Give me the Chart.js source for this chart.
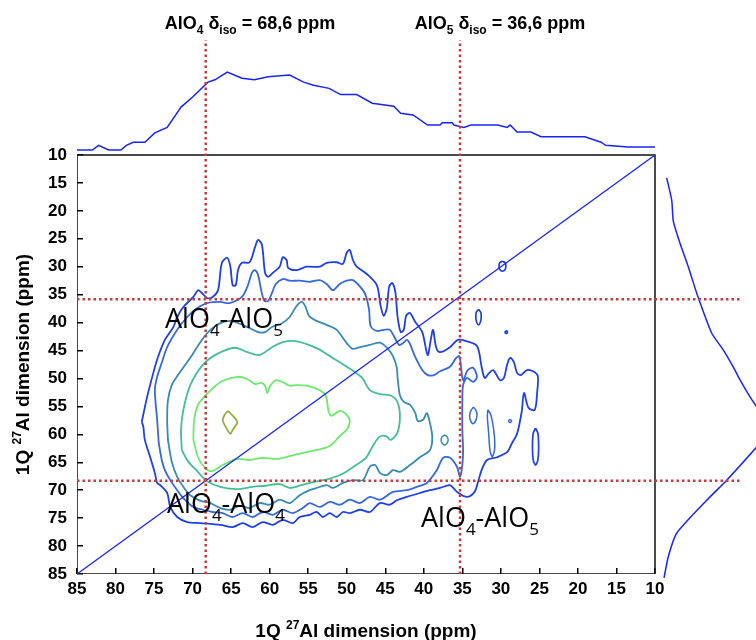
<!DOCTYPE html>
<html>
<head>
<meta charset="utf-8">
<title>27Al 1Q-1Q correlation</title>
<script src="https://cdn.jsdelivr.net/npm/chart.js@4.4.1/dist/chart.umd.min.js"></script>
<style>
  html, body { margin: 0; padding: 0; background: #fff; }
  #wrap { width: 756px; height: 640px; }
</style>
</head>
<body>
<div id="wrap"><canvas id="nmrChart" width="756" height="640"></canvas></div>
<script>
// 27Al 1Q-1Q correlation map (contours + projections)

// axis range and ticks, ppm
const ppmMin = 10;
const ppmMax = 85;
const axisTicks = [10, 15, 20, 25, 30, 35, 40, 45, 50, 55, 60, 65, 70, 75, 80, 85];

// dotted reference lines (ppm)
const alo4LineX = 68.3;
const alo5LineX = 35.3;
const alo4LineY = 68.3;
const alo5LineY = 35.8;
const hLineEndX = -1; // runs on past the frame, over the side projection

// diagonal
const diagonal = [[85, 85], [10, 10]];

// top projection: [ppm, intensity]
const topProjection = [
  [85.0, 0], [83.0, 0], [82.2, 6], [80.9, 0], [79.3, 0], [78.6, 6], [77.7, 10], [76.2, 10],
  [74.9, 22], [73.3, 29], [71.5, 55], [70.0, 68], [68.0, 87], [67.1, 90], [65.5, 100],
  [63.6, 92], [62.0, 90], [60.2, 94], [57.4, 96], [55.6, 87], [54.3, 83], [52.3, 79],
  [50.8, 71], [48.7, 71], [46.7, 60], [43.9, 56], [43.0, 47], [41.4, 45], [39.5, 32],
  [37.9, 32], [37.6, 35], [36.3, 35], [36.1, 32], [34.8, 29], [33.9, 32], [30.4, 32],
  [29.2, 29], [28.8, 32], [27.9, 23], [26.1, 23], [24.8, 17], [19.1, 17], [17.0, 10],
  [16.4, 6], [13.5, 4], [10.0, 4]
];

// right projection: [ppm, intensity]
const sideProjection = [
  [14.1, 5.8], [18.1, 10.2], [21.9, 11.6], [25.8, 17.4], [30.0, 24.6], [34.7, 31.9],
  [41.9, 45.0], [44.9, 55.0], [48.5, 65.2], [49.7, 68.1], [53.3, 78.3], [56.0, 87],
  [59.2, 96], [61.5, 87], [62.4, 83.5], [68.2, 58.0], [71.8, 40.6], [77.7, 14.5],
  [81.9, 7.2], [85.7, 3.5]
];

// contour levels, outermost first: [x ppm, y ppm]
const level1 = [
  [76.6, 57.8], [75.9, 53.3], [75.1, 49.0], [74.5, 46.2], [73.6, 43.1], [72.5, 40.8], [72.0, 39.0],
  [71.2, 37.2], [69.9, 35.4], [69.3, 34.2], [68.8, 34.7], [68.1, 35.6], [67.4, 35.4], [66.7, 34.2],
  [66.2, 29.3], [65.5, 28.4], [65.1, 30.0], [64.8, 33.3], [64.4, 33.3], [64.1, 30.6], [63.6, 29.3],
  [62.6, 29.2], [61.9, 26.5], [61.5, 25.2], [61.0, 26.1], [60.6, 31.1], [60.2, 31.8], [59.6, 31.1],
  [58.7, 30.0], [58.3, 28.3], [57.8, 28.8], [57.6, 30.2], [56.5, 30.6], [55.2, 30.0], [53.5, 30.0],
  [52.6, 29.3], [51.3, 29.2], [50.5, 29.5], [50.0, 27.5], [49.6, 27.0], [49.2, 28.8], [48.7, 30.0],
  [47.4, 31.3], [46.1, 33.3], [45.6, 37.0], [45.2, 38.8], [44.8, 37.4], [44.5, 33.6], [44.1, 32.9],
  [43.7, 34.5], [43.4, 39.0], [43.0, 41.7], [42.6, 41.3], [42.3, 38.8], [41.8, 38.3], [41.1, 39.9],
  [40.2, 41.7], [39.5, 45.8], [39.1, 43.1], [38.8, 41.3], [38.4, 44.4], [37.9, 45.3], [36.6, 44.4],
  [35.6, 43.1], [34.5, 43.3], [33.1, 44.2], [32.5, 47.9], [32.1, 49.9], [31.5, 49.0], [31.0, 48.5],
  [30.1, 50.3], [29.6, 49.9], [29.2, 47.6], [28.8, 46.3], [28.3, 47.1], [27.9, 49.0], [27.4, 49.4],
  [26.6, 48.5], [25.7, 48.8], [25.2, 49.6], [25.3, 52.6], [25.6, 55.6], [26.4, 55.3], [27.0, 52.6],
  [27.3, 56.0], [27.9, 59.9], [28.6, 61.7], [29.2, 63.2], [30.5, 64.1], [31.8, 64.6], [32.5, 66.4],
  [33.0, 68.7], [33.4, 70.3], [34.4, 71.2], [35.7, 70.3], [36.6, 69.1], [37.9, 69.6], [39.2, 70.0],
  [40.5, 70.5], [42.2, 71.2], [43.5, 71.8], [44.4, 72.6], [45.7, 72.3], [47.0, 73.9], [48.3, 73.5],
  [49.6, 74.1], [50.5, 73.9], [51.3, 74.8], [52.2, 74.1], [53.1, 74.8], [53.9, 73.9], [54.8, 74.4],
  [56.1, 74.8], [57.0, 75.9], [58.3, 75.3], [59.6, 76.2], [60.9, 75.7], [62.2, 76.6], [63.5, 75.9],
  [64.8, 76.6], [66.4, 76.2], [69.0, 75.9], [70.7, 75.7], [72.0, 74.8], [72.9, 73.0], [73.3, 70.5],
  [74.2, 69.1], [74.6, 68.7], [74.9, 66.9], [75.5, 64.1], [76.2, 61.0], [76.4, 58.6]
];
const level1Islands = [
  [[29.8, 29.0], [29.45, 29.3], [29.35, 29.9], [29.45, 30.5], [29.8, 30.8], [30.15, 30.5], [30.25, 29.9], [30.15, 29.3]],
  [[32.9, 37.6], [32.6, 38.2], [32.55, 39.0], [32.65, 39.9], [32.9, 40.4], [33.15, 39.9], [33.25, 39.0], [33.2, 38.2]],
  [[29.4, 41.5], [29.2, 41.5], [29.15, 41.7], [29.2, 41.9], [29.4, 41.9], [29.45, 41.7]],
  [[25.5, 58.9], [25.2, 59.8], [25.1, 62.2], [25.2, 64.6], [25.5, 65.5], [25.8, 64.6], [25.9, 62.2], [25.8, 59.8]]
];
const level2 = [
  [74.4, 61.5], [74.6, 57.4], [74.9, 52.1], [74.6, 49.7], [74.0, 47.2], [73.3, 44.4], [72.0, 41.3],
  [70.7, 39.0], [69.4, 37.4], [68.1, 36.5], [66.4, 36.3], [65.2, 36.5], [63.6, 35.4], [62.9, 33.6],
  [62.3, 31.1], [61.9, 30.6], [61.5, 31.5], [61.1, 34.2], [60.7, 36.1], [60.2, 36.1], [59.7, 34.7],
  [59.2, 33.1], [58.3, 32.2], [57.4, 32.5], [56.1, 32.5], [54.8, 32.7], [53.5, 32.4], [52.6, 33.1],
  [51.8, 34.2], [50.9, 33.1], [50.0, 32.5], [49.2, 32.4], [48.3, 33.5], [47.6, 34.9], [47.1, 37.7],
  [46.9, 40.6], [46.1, 41.5], [45.2, 41.3], [44.4, 41.3], [43.7, 42.9], [43.2, 44.0], [42.7, 43.7],
  [42.2, 43.1], [41.8, 43.8], [41.1, 46.2], [40.2, 48.5], [39.5, 49.4], [38.7, 49.4], [37.9, 48.7],
  [36.6, 47.9], [35.8, 46.3], [35.4, 46.0], [35.2, 47.6], [34.9, 50.3], [34.3, 48.5], [33.6, 48.1],
  [33.1, 49.7], [33.6, 50.6], [34.4, 49.9], [34.9, 51.2], [35.0, 53.9], [35.0, 59.2], [34.9, 62.8],
  [35.0, 65.5], [35.3, 67.6], [35.7, 65.8], [36.6, 64.2], [37.5, 64.2], [38.3, 66.4], [39.6, 68.7],
  [40.9, 69.4], [42.2, 70.0], [44.0, 70.3], [45.7, 71.7], [47.0, 71.2], [48.3, 72.3], [49.6, 71.7],
  [50.9, 72.6], [52.2, 72.1], [53.5, 73.0], [54.8, 72.3], [55.7, 73.2], [57.0, 74.1], [58.3, 73.5],
  [59.6, 74.4], [60.9, 73.9], [62.2, 74.8], [63.5, 74.1], [64.8, 74.8], [66.1, 74.1], [67.4, 73.9],
  [68.7, 73.5], [69.9, 73.0], [71.2, 71.4], [72.0, 70.0], [72.9, 68.2], [73.6, 66.4], [74.0, 64.6]
];
const level2Islands = [
  [[33.55, 55.1], [33.2, 55.8], [33.1, 56.6], [33.25, 57.5], [33.6, 58.1], [33.95, 57.5], [34.05, 56.6], [33.9, 55.8]],
  [[31.7, 55.6], [31.3, 56.5], [30.9, 59.5], [30.8, 62.5], [31.1, 64.0], [31.4, 63.0], [31.6, 59.5], [31.75, 57.0]],
  [[28.8, 57.3], [28.6, 57.6], [28.8, 57.9], [29.0, 57.6]]
];
const level3 = [
  [73.2, 61.0], [73.3, 57.4], [73.2, 53.9], [72.7, 51.2], [71.6, 48.8], [70.3, 46.3], [69.0, 43.5],
  [67.7, 41.3], [66.4, 40.1], [65.1, 39.7], [63.9, 40.2], [62.6, 41.0], [61.5, 41.7], [60.6, 41.7],
  [59.7, 40.8], [58.4, 40.1], [57.4, 39.0], [56.6, 37.2], [55.9, 36.3], [55.4, 37.0], [54.9, 38.8],
  [53.9, 39.7], [52.6, 40.4], [51.3, 41.3], [50.1, 43.5], [49.2, 44.7], [48.3, 44.4], [47.0, 44.0],
  [45.7, 43.6], [44.8, 44.5], [44.0, 46.0], [43.5, 48.1], [43.4, 49.9], [43.1, 53.0], [42.6, 54.2],
  [41.8, 54.7], [41.1, 56.2], [40.8, 57.6], [40.1, 57.4], [39.6, 56.2], [39.2, 58.0], [38.9, 60.5],
  [39.2, 62.8], [40.5, 64.1], [41.8, 65.5], [43.1, 66.7], [44.0, 66.4], [44.8, 67.3], [45.7, 66.9],
  [46.3, 65.5], [47.0, 65.8], [47.9, 68.2], [49.2, 68.2], [50.5, 68.7], [51.8, 69.6], [52.6, 69.1],
  [53.9, 69.6], [54.8, 70.0], [56.1, 70.9], [57.4, 72.3], [58.7, 71.7], [60.0, 72.6], [61.3, 72.3],
  [62.6, 73.2], [63.9, 72.8], [65.1, 73.5], [66.4, 73.2], [67.7, 72.3], [69.0, 71.9], [70.3, 70.9],
  [71.2, 69.4], [72.0, 67.6], [72.7, 64.9]
];
const level3Islands = [
  [[37.3, 60.1], [36.9, 60.6], [36.9, 61.4], [37.3, 61.9], [37.7, 61.4], [37.7, 60.6]]
];
const level4 = [
  [71.4, 62.8], [71.5, 59.2], [71.2, 55.6], [70.3, 51.2], [68.7, 47.6], [66.8, 45.6], [64.5, 44.5],
  [62.9, 45.3], [61.3, 45.8], [59.7, 44.4], [58.3, 43.5], [56.7, 43.3], [55.3, 43.8], [53.7, 44.7],
  [52.2, 46.0], [50.9, 47.1], [49.3, 48.5], [48.0, 49.9], [47.0, 52.1], [45.7, 52.8], [44.4, 53.0],
  [43.5, 54.0], [43.1, 56.5], [43.4, 59.6], [44.3, 61.0], [44.9, 60.3], [45.8, 60.5], [46.7, 62.3],
  [47.5, 64.2], [48.8, 65.5], [50.6, 67.1], [52.4, 68.0], [54.2, 68.5], [56.1, 69.2], [57.4, 69.6],
  [58.7, 68.9], [60.5, 69.2], [62.2, 69.4], [64.2, 69.8], [66.4, 69.4], [68.1, 68.4], [69.4, 66.6],
  [70.6, 64.8]
];
const level5 = [
  [69.9, 61.0], [69.8, 57.4], [69.3, 54.7], [68.5, 53.3], [67.5, 51.9], [66.2, 50.5], [64.2, 49.7],
  [62.9, 50.1], [61.9, 51.0], [61.1, 50.8], [60.6, 51.3], [60.3, 52.6], [60.0, 51.5], [59.2, 50.3],
  [58.1, 50.8], [57.4, 51.3], [56.5, 51.2], [55.2, 51.3], [53.5, 52.1], [52.7, 53.1], [52.4, 55.6],
  [52.0, 56.7], [50.9, 55.8], [50.0, 56.5], [49.6, 57.6], [50.0, 59.2], [50.9, 60.3], [52.2, 62.1],
  [53.9, 62.8], [55.7, 63.3], [57.4, 63.9], [59.0, 64.4], [60.9, 64.2], [62.6, 64.6], [64.2, 64.4],
  [66.1, 65.5], [67.5, 66.6], [68.4, 66.0], [69.3, 64.1]
];
const level6 = [
  [65.4, 55.8], [64.9, 56.5], [64.2, 57.8], [64.8, 59.2], [65.1, 59.9], [65.7, 58.7], [66.1, 57.4], [65.8, 56.4]
];

// labels
const topLabelAlO4 = [['AlO', ''], ['4', 'sub'], [' δ', ''], ['iso', 'sub'], [' = 68,6 ppm', '']];
const topLabelAlO5 = [['AlO', ''], ['5', 'sub'], [' δ', ''], ['iso', 'sub'], [' = 36,6 ppm', '']];
const pairAlO4AlO5 = [['AlO', ''], ['4', 'sub'], ['-AlO', ''], ['5', 'sub']];
const pairAlO4AlO4 = [['AlO', ''], ['4', 'sub'], ['-AlO', ''], ['4', 'sub']];
const axisTitle = [['1Q ', ''], ['27', 'sup'], ['Al dimension (ppm)', '']];

// ---- layout (pixels) ----
const W = 756, H = 640;
const plotLeft = 77, plotRight = 655, plotTop = 155, plotBottom = 574;
const areaTop = 40;
const pxPerX = (plotRight - plotLeft) / (ppmMax - ppmMin);
const pxPerY = (plotBottom - plotTop) / (ppmMax - ppmMin);
const xScaleMin = ppmMin - (W - plotRight) / pxPerX;
const yScaleMin = ppmMin - (plotTop - areaTop) / pxPerY;
// top projection: 0 at y=150px, 100 at y=72px
const topUnit = (150 - 72) / 100;
const topScaleMin = -(plotBottom - 150) / topUnit;
const topScaleMax = (150 - areaTop) / topUnit;
// side projection: 0 at x=660px, 100 at x=775px
const sideUnit = (775 - 660) / 100;
const sideScaleMin = -(660 - plotLeft) / sideUnit;
const sideScaleMax = (W - 660) / sideUnit;

const colors = {
  proj: 'rgb(25,35,255)',
  red: '#c93b3b',
  l1: '#1f40e8',
  l2: '#3769da',
  l3: '#378bb4',
  l4: '#45be94',
  l5: '#6ee86e',
  l6: '#8fb23e'
};

function pts(pairs) {
  return pairs.map(([x, y]) => ({ x, y }));
}
function loop(pairs) {
  return pts(pairs.concat([pairs[0]]));
}
function lineSet(data, color, width, extra) {
  return Object.assign({
    data: data,
    showLine: true,
    borderColor: color,
    backgroundColor: color,
    borderWidth: width,
    pointRadius: 0,
    fill: false,
    tension: 0
  }, extra || {});
}

const datasets = [];
// dotted reference lines (on top)
datasets.push(lineSet(pts([[alo4LineX, ppmMax], [alo4LineX, yScaleMin]]), colors.red, 2.5, { borderDash: [2.5, 3] }));
datasets.push(lineSet(pts([[alo5LineX, ppmMax], [alo5LineX, yScaleMin]]), colors.red, 2.5, { borderDash: [2.5, 3] }));
datasets.push(lineSet(pts([[ppmMax, alo5LineY], [hLineEndX, alo5LineY]]), colors.red, 2.5, { borderDash: [2.5, 3] }));
datasets.push(lineSet(pts([[ppmMax, alo4LineY], [hLineEndX, alo4LineY]]), colors.red, 2.5, { borderDash: [2.5, 3] }));
// diagonal
datasets.push(lineSet(pts(diagonal), colors.proj, 1.3));
// frame
datasets.push(lineSet(pts([[ppmMax, ppmMin], [ppmMin, ppmMin], [ppmMin, ppmMax], [ppmMax, ppmMax], [ppmMax, ppmMin]]), '#111', 1.5));
// projections
datasets.push(lineSet(pts(topProjection), colors.proj, 1.5, { yAxisID: 'yTop' }));
datasets.push(lineSet(sideProjection.map(([ppm, v]) => ({ x: v, y: ppm })), colors.proj, 1.5,
  { xAxisID: 'xSide', tension: 0.2, clip: false }));
// contours, inner first so outer levels sit underneath
const smooth = { tension: 0.3 };
datasets.push(lineSet(loop(level6), colors.l6, 1.8, smooth));
datasets.push(lineSet(loop(level5), colors.l5, 1.8, smooth));
datasets.push(lineSet(loop(level4), colors.l4, 1.8, smooth));
datasets.push(lineSet(loop(level3), colors.l3, 1.8, smooth));
level3Islands.forEach(p => datasets.push(lineSet(loop(p), colors.l3, 1.5, smooth)));
datasets.push(lineSet(loop(level2), colors.l2, 1.8, smooth));
level2Islands.forEach(p => datasets.push(lineSet(loop(p), colors.l2, 1.5, smooth)));
datasets.push(lineSet(loop(level1), colors.l1, 1.8, smooth));
level1Islands.forEach(p => datasets.push(lineSet(loop(p), colors.l1, 1.7, smooth)));

// text with sub/superscripts
function drawRich(ctx, parts, x, y, size, weight, family, align) {
  const fontFor = k => `${weight} ${k ? Math.round(size * 0.64) : size}px ${family}`;
  let total = 0;
  parts.forEach(([t, k]) => { ctx.font = fontFor(k); total += ctx.measureText(t).width; });
  let cx = align === 'center' ? x - total / 2 : x;
  parts.forEach(([t, k]) => {
    ctx.font = fontFor(k);
    const dy = k === 'sub' ? size * 0.28 : (k === 'sup' ? -size * 0.42 : 0);
    ctx.fillText(t, cx, y + dy);
    cx += ctx.measureText(t).width;
  });
}

const textLayer = {
  id: 'textLayer',
  afterDraw(chart) {
    const ctx = chart.ctx;
    const bold = "'Liberation Sans', Arial, sans-serif";
    const plain = "'Open Sans', 'DejaVu Sans', sans-serif";
    ctx.save();
    ctx.fillStyle = '#000';
    ctx.textAlign = 'left';
    ctx.textBaseline = 'alphabetic';
    drawRich(ctx, topLabelAlO4, 250, 29, 18, 'bold', bold, 'center');
    drawRich(ctx, topLabelAlO5, 500, 29, 18, 'bold', bold, 'center');
    drawRich(ctx, pairAlO4AlO5, 165, 328, 27, 'normal', plain, 'left');
    drawRich(ctx, pairAlO4AlO4, 167, 513, 27, 'normal', plain, 'left');
    drawRich(ctx, pairAlO4AlO5, 421, 527, 27, 'normal', plain, 'left');
    drawRich(ctx, axisTitle, (plotLeft + plotRight) / 2, 637, 19, 'bold', bold, 'center');
    ctx.translate(29, (plotTop + plotBottom) / 2);
    ctx.rotate(-Math.PI / 2);
    drawRich(ctx, axisTitle, 0, 0, 19, 'bold', bold, 'center');
    ctx.restore();
  }
};

const tickFont = { family: "'Liberation Sans', Arial, sans-serif", size: 17, weight: 'bold' };
const inwardTicks = { drawOnChartArea: false, drawTicks: true, tickLength: -6, color: '#000', lineWidth: 1.5 };

new Chart(document.getElementById('nmrChart'), {
  type: 'scatter',
  data: { datasets: datasets },
  options: {
    responsive: false,
    animation: false,
    devicePixelRatio: 1,
    layout: { padding: { top: areaTop, right: 0, bottom: 0, left: 0 } },
    plugins: { legend: { display: false }, tooltip: { enabled: false } },
    scales: {
      x: {
        type: 'linear', position: 'bottom', reverse: true,
        min: xScaleMin, max: ppmMax,
        afterBuildTicks: s => { s.ticks = axisTicks.map(v => ({ value: v })); },
        afterFit: s => { s.height = H - plotBottom; },
        ticks: { autoSkip: false, maxRotation: 0, color: '#000', font: tickFont, padding: 11 },
        grid: inwardTicks,
        border: { display: false }
      },
      y: {
        type: 'linear', position: 'left', reverse: true,
        min: yScaleMin, max: ppmMax,
        afterBuildTicks: s => { s.ticks = axisTicks.map(v => ({ value: v })); },
        afterFit: s => { s.width = plotLeft; },
        ticks: { autoSkip: false, color: '#000', font: tickFont, padding: 16 },
        grid: inwardTicks,
        border: { display: false }
      },
      yTop: { type: 'linear', display: false, min: topScaleMin, max: topScaleMax },
      xSide: { type: 'linear', display: false, min: sideScaleMin, max: sideScaleMax }
    }
  },
  plugins: [textLayer]
});
</script>
</body>
</html>
